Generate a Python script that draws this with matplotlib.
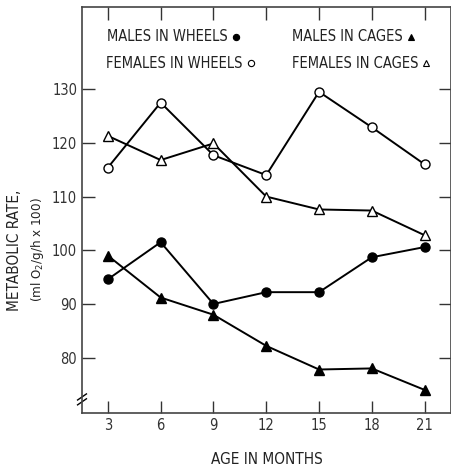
import matplotlib.pyplot as plt
from matplotlib import font_manager

names = {f.name for f in font_manager.fontManager.ttflist}
if "Liberation Sans Narrow" in names:
    FONT = ["Liberation Sans Narrow", "DejaVu Sans"]
    STRETCH = "normal"
else:
    FONT = ["DejaVu Sans"]
    STRETCH = "condensed"
plt.rcParams["font.family"] = FONT
plt.rcParams["font.stretch"] = STRETCH

# ── data ─────────────────────────────────────────────────────────────────────
ages = [3, 6, 9, 12, 15, 18, 21]
males_wheels = [94.6, 101.5, 90.0, 92.2, 92.2, 98.7, 100.6]
females_wheels = [115.4, 127.5, 117.7, 114.0, 129.5, 122.9, 116.0]
males_cages = [99.0, 91.2, 88.0, 82.2, 77.8, 78.0, 74.0]
females_cages = [121.3, 116.8, 119.9, 110.0, 107.6, 107.4, 102.8]
y_ticks = [80, 90, 100, 110, 120, 130]

fig = plt.figure(figsize=(4.51, 4.66), dpi=100)
ax = fig.add_axes([82 / 451, 53 / 466, 369 / 451, 406 / 466])

kw = dict(color="black", linewidth=1.4, markersize=6.5, markeredgewidth=1.0, clip_on=False)
ax.plot(ages, females_wheels, marker="o", markerfacecolor="white", **kw)
ax.plot(ages, females_cages, marker="^", markerfacecolor="white", **kw)
ax.plot(ages, males_wheels, marker="o", markerfacecolor="black", **kw)
ax.plot(ages, males_cages, marker="^", markerfacecolor="black", **kw)

ax.set_xlim(1.53, 22.5)
ax.set_ylim(69.7, 145.3)
ax.set_xticks(ages)
ax.set_yticks(y_ticks)
ax.tick_params(direction="in", length=9, width=1.0, top=True, right=True,
               labelsize=10.5, colors="#333333")
for s in ax.spines.values():
    s.set_linewidth(1.2)
    s.set_color("#444444")

# legend written as text inside the frame, symbol placed after each label
renderer = fig.canvas.get_renderer()
inv = ax.transData.inverted()
legend_rows = [
    (2.95, 139.8, "MALES IN WHEELS", dict(marker="o", mfc="black", mec="black")),
    (2.9, 134.8, "FEMALES IN WHEELS", dict(marker="o", mfc="white", mec="black")),
    (13.45, 139.8, "MALES IN CAGES", dict(marker="^", mfc="black", mec="black")),
    (13.45, 134.8, "FEMALES IN CAGES", dict(marker="^", mfc="white", mec="black")),
]
for x, y, label, mk in legend_rows:
    t = ax.text(x, y, label, fontsize=10.5, va="center", color="#222222")
    bb = t.get_window_extent(renderer)
    xr = inv.transform((bb.x1 + 8, bb.y0))[0]
    ax.plot([xr], [y], markersize=4.5, mew=0.8, linestyle="none", **mk)

# axis break mark on the left spine
for dy in (0.0, 0.012):
    ax.plot([-0.012, 0.012], [0.02 + dy, 0.035 + dy], color="black", linewidth=1.0,
            transform=ax.transAxes, clip_on=False)

ax.set_xlabel("AGE IN MONTHS", fontsize=11, color="#222222", labelpad=14)
fig.text(15 / 451, 1 - 250 / 466, "METABOLIC RATE,", rotation=90, ha="center", va="center",
         fontsize=11, color="#222222")
fig.text(37 / 451, 1 - 250 / 466, r"(ml O$_2$/g/h x 100)", rotation=90, ha="center", va="center",
         fontsize=9.5, color="#222222")

fig.savefig("out.png", dpi=100)
